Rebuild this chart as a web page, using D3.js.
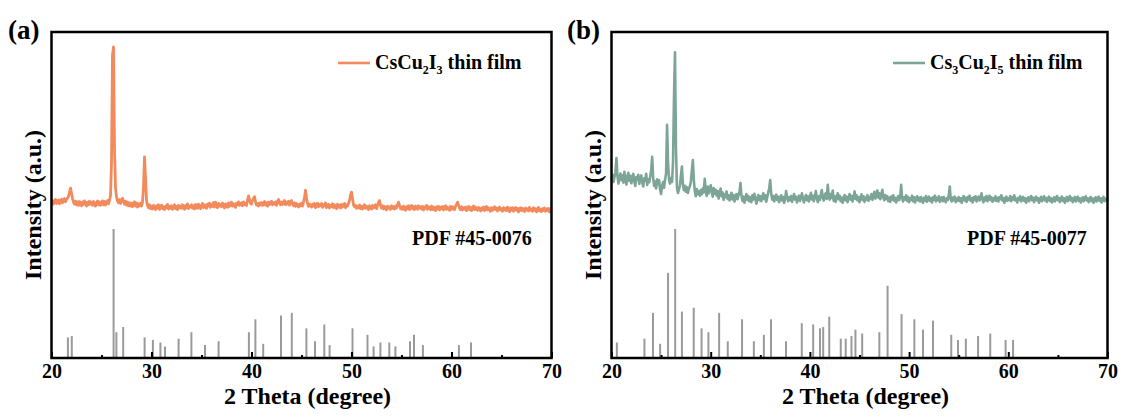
<!DOCTYPE html>
<html>
<head>
<meta charset="utf-8">
<script src="https://cdn.jsdelivr.net/npm/d3@7"></script>
<style>
  html, body { margin: 0; padding: 0; background: #fff; }
  svg { display: block; }
  text { font-family: "Liberation Serif", "Times New Roman", serif; font-weight: bold; fill: #000; }
</style>
</head>
<body>
<svg id="chart" width="1123" height="417"></svg>
<script>
// XRD scans: 2θ from 20° to 70° in 0.1° steps, intensity in counts (a.u.)
const thetaStart = 20;
const thetaStep = 0.1;

// CsCu2I3 thin film
const filmA = [
  476,483,472,481,486,474,480,485,473,482,
  487,476,484,489,479,487,490,496,508,521,
  506,489,478,472,481,470,479,468,480,473,
  467,479,471,482,474,466,478,470,481,472,
  478,468,480,473,466,477,482,470,479,468,
  476,482,470,480,469,477,483,473,484,498,
  600,930,954,640,522,494,482,476,486,474,
  484,490,480,472,481,469,478,467,476,466,
  475,464,474,479,466,476,463,473,467,475,
  466,478,525,617,556,484,468,461,470,458,
  466,457,468,461,455,467,460,470,456,463,
  469,458,464,455,466,461,471,457,465,459,
  467,456,463,470,458,465,455,468,460,466,
  459,470,462,456,468,461,473,458,466,463,
  470,460,467,457,471,463,459,472,464,458,
  468,474,461,470,465,459,472,466,475,462,
  471,465,477,463,478,468,461,474,466,470,
  464,475,468,460,473,467,462,476,465,471,
  478,466,473,469,462,475,470,479,468,472,
  476,467,479,470,474,468,483,497,486,475,
  472,483,490,495,480,469,474,466,475,470,
  477,468,473,480,469,476,466,478,471,474,
  481,470,476,472,479,468,480,486,476,470,
  479,471,476,483,470,478,473,481,469,476,
  483,472,467,476,465,474,470,463,472,467,
  475,466,478,492,515,491,474,465,472,468,
  463,472,466,474,461,470,475,464,471,467,
  474,462,470,467,476,461,469,472,460,468,
  465,473,461,470,466,458,472,463,469,460,
  471,463,468,474,461,470,466,474,483,500,
  509,489,470,464,468,459,466,461,469,458,
  466,457,463,470,459,466,462,455,467,461,
  457,468,460,465,470,458,467,477,483,469,
  460,467,457,465,462,454,466,459,463,456,
  467,459,464,457,466,460,470,478,468,458,
  463,456,466,459,453,464,458,467,455,462,
  468,458,465,455,466,461,456,467,460,464,
  457,465,454,463,459,468,456,464,461,455,
  466,455,463,458,452,464,457,465,454,462,
  458,465,454,462,467,456,463,459,453,465,
  456,464,459,455,466,470,478,470,460,455,
  464,454,461,457,463,452,460,465,455,462,
  452,460,466,455,463,458,453,462,457,451,
  460,455,463,452,459,465,454,461,456,450,
  461,453,458,464,455,460,451,459,463,454,
  458,450,461,455,459,452,463,456,449,460,
  454,461,450,458,462,453,459,448,457,461,
  452,459,455,449,460,454,458,451,462,453,
  456,450,461,453,458,448,457,462,451,456,
  449,458,453,460,450,457,452,459,448,455,
  453
];

// Cs3Cu2I5 thin film
const filmB = [
  548,562,540,555,570,613,558,535,552,566,
  545,560,538,571,550,532,556,568,543,559,
  536,552,565,541,528,555,547,562,534,549,
  560,538,526,551,544,565,531,548,539,556,
  575,617,552,528,541,520,548,533,545,516,
  503,528,540,522,547,565,715,600,548,535,
  552,540,598,800,938,640,522,506,518,530,
  560,587,532,515,528,510,524,506,519,527,
  540,575,607,545,512,496,518,503,511,498,
  515,502,520,508,550,512,497,526,505,518,
  530,510,495,521,504,516,498,512,489,507,
  520,496,508,485,502,493,511,488,499,483,
  496,507,486,500,480,494,503,487,499,510,
  537,498,482,495,476,490,503,485,497,481,
  493,478,499,486,504,490,473,489,500,484,
  496,481,492,505,487,499,479,493,508,520,
  546,503,486,497,480,492,501,485,495,478,
  490,499,483,494,476,488,512,495,481,493,
  484,497,479,491,503,486,495,477,489,498,
  482,494,505,488,477,492,500,484,496,480,
  493,507,486,498,481,495,512,490,478,496,
  485,500,515,492,483,499,506,488,531,497,
  486,503,491,514,482,496,479,493,505,487,
  498,481,492,476,489,500,484,495,478,491,
  503,486,497,480,493,511,488,499,483,494,
  478,490,502,485,496,479,492,486,499,482,
  494,488,503,485,497,510,489,501,514,492,
  505,487,498,516,493,484,500,488,496,481,
  492,479,495,486,499,482,491,477,488,497,
  484,495,531,490,480,493,486,499,482,494,
  478,490,485,498,481,493,477,489,496,483,
  492,480,494,486,476,491,483,497,479,488,
  495,482,490,477,493,485,498,480,491,484,
  496,479,488,493,481,494,486,478,490,485,
  499,526,487,480,492,484,495,478,489,483,
  494,481,490,476,488,497,483,491,479,494,
  486,498,482,490,477,493,485,496,480,489,
  495,483,491,505,486,478,492,484,497,481,
  489,498,485,493,479,490,484,496,482,491,
  480,494,487,499,483,491,476,488,495,482,
  490,484,497,481,493,486,499,483,489,477,
  491,485,496,480,488,494,482,490,476,487,
  493,481,489,497,484,492,478,488,495,483,
  490,476,487,494,481,489,496,483,491,479,
  488,495,482,490,477,486,493,480,489,497,
  484,491,478,488,495,482,490,476,487,494,
  481,489,497,483,491,478,487,494,480,488,
  495,482,490,477,486,493,481,489,496,483,
  490,478,487,494,481,489,476,486,493,480,
  488,495,482,490,477,486,494,481,489,484,
  487
];

// Reference pattern PDF #45-0076: peak positions (2θ) and relative intensities
const pdfATheta = [21.64,22.03,26.21,26.49,27.17,29.31,30.14,30.89,31.35,32.71,33.99,35.35,36.71,
  39.74,40.39,41.17,42.95,44.03,45.49,46.35,47.28,47.81,50.10,51.60,52.21,52.89,53.78,54.39,
  55.85,56.25,57.14,60.74,61.95];
const pdfAInt = [16,17,100,20,24,16,14,12,9,15,20,10,13,
  20,30,11,33,35,23,13,26,10,23,18,9,12,12,9,
  13,18,10,10,12];

// Reference pattern PDF #45-0077
const pdfBTheta = [20.54,23.32,24.18,24.90,25.70,26.42,27.10,28.29,29.08,29.77,30.85,31.72,33.16,
  34.35,35.36,36.08,37.59,39.18,40.33,41.02,41.34,41.95,43.11,43.61,44.19,44.59,45.27,
  47.00,47.83,49.24,50.53,51.40,52.41,54.25,54.93,55.72,56.95,58.18,59.73,60.48];
const pdfBInt = [12,15,35,11,66,100,36,39,23,20,35,13,30,
  13,18,30,13,27,26,23,24,32,15,15,17,22,19,
  20,56,34,30,22,29,18,14,15,17,19,14,14];

const xMajorTicks = [20, 30, 40, 50, 60, 70];
const xMinorTicks = [25, 35, 45, 55, 65];

const panelLetters = ["(a)", "(b)"];
const legendA = [["CsCu", false], ["2", true], ["I", false], ["3", true], [" thin film", false]];
const legendB = [["Cs", false], ["3", true], ["Cu", false], ["2", true], ["I", false], ["5", true], [" thin film", false]];
const pdfLabels = ["PDF #45-0076", "PDF #45-0077"];
const xTitle = "2 Theta (degree)";
const yTitle = "Intensity (a.u.)";

const svg = d3.select("#chart");

const panels = [
  { left: 51.5, right: 551.5, film: filmA, color: "#F28A5C", lineWidth: 2.8, legend: legendA,
    pdfTheta: pdfATheta, pdfInt: pdfAInt, pdfLabel: pdfLabels[0], letter: panelLetters[0],
    letterX: 8, legX: 338, pdfX: 412 },
  { left: 611.5, right: 1107.5, film: filmB, color: "#7DA597", lineWidth: 2.6, legend: legendB,
    pdfTheta: pdfBTheta, pdfInt: pdfBInt, pdfLabel: pdfLabels[1], letter: panelLetters[1],
    letterX: 567, legX: 893, pdfX: 967 }
];

const plotTop = 32, plotBottom = 358;

panels.forEach(p => {
  const g = svg.append("g");
  const x = d3.scaleLinear().domain([20, 70]).range([p.left, p.right]);
  const yFilm = d3.scaleLinear().domain([0, 1000]).range([plotBottom, plotTop]);
  const yPdf = d3.scaleLinear().domain([0, 100]).range([plotBottom, 229]);

  // reference sticks
  g.append("g").selectAll("line")
    .data(p.pdfTheta.map((t, i) => [t, p.pdfInt[i]]))
    .join("line")
    .attr("x1", d => x(d[0])).attr("x2", d => x(d[0]))
    .attr("y1", yPdf(0)).attr("y2", d => yPdf(d[1]))
    .attr("stroke", "#9A9A9A").attr("stroke-width", 2);

  // film pattern
  const line = d3.line()
    .x((d, i) => x(thetaStart + i * thetaStep))
    .y(d => yFilm(d));
  g.append("path")
    .datum(p.film)
    .attr("d", line)
    .attr("fill", "none")
    .attr("stroke", p.color)
    .attr("stroke-width", p.lineWidth)
    .attr("stroke-linejoin", "round");

  // bottom axis, ticks pointing inward
  const axis = d3.axisBottom(x).tickValues(xMajorTicks).tickFormat(d3.format("d"))
    .tickSizeInner(-6).tickSizeOuter(0).tickPadding(6);
  const ax = g.append("g").attr("transform", `translate(0,${plotBottom})`).call(axis);
  ax.select(".domain").remove();
  ax.selectAll(".tick line").attr("stroke", "#000").attr("stroke-width", 2);
  ax.selectAll(".tick text").attr("font-size", 20).attr("fill", "#000")
    .style("font-family", "'Liberation Serif', serif").style("font-weight", "bold");

  const minor = d3.axisBottom(x).tickValues(xMinorTicks).tickFormat("")
    .tickSizeInner(-3).tickSizeOuter(0);
  const mx = g.append("g").attr("transform", `translate(0,${plotBottom})`).call(minor);
  mx.select(".domain").remove();
  mx.selectAll(".tick line").attr("stroke", "#000").attr("stroke-width", 2);

  // frame
  g.append("rect")
    .attr("x", p.left).attr("y", plotTop)
    .attr("width", p.right - p.left).attr("height", plotBottom - plotTop)
    .attr("fill", "none").attr("stroke", "#000").attr("stroke-width", 2.5);

  // axis titles
  g.append("text")
    .attr("x", (p.left + p.right) / 2 + 6).attr("y", 404)
    .attr("text-anchor", "middle").attr("font-size", 24)
    .text(xTitle);
  g.append("text")
    .attr("transform", `translate(${p.left - 11},${205}) rotate(-90)`)
    .attr("text-anchor", "middle").attr("font-size", 24)
    .text(yTitle);

  // panel letter
  g.append("text")
    .attr("x", p.letterX).attr("y", 39)
    .attr("font-size", 27)
    .text(p.letter);

  // legend
  g.append("line")
    .attr("x1", p.legX).attr("x2", p.legX + 32)
    .attr("y1", 63).attr("y2", 63)
    .attr("stroke", p.color).attr("stroke-width", 2.6);
  const lt = g.append("text")
    .attr("x", p.legX + 37).attr("y", 69)
    .attr("font-size", 20);
  let shifted = false;
  p.legend.forEach(([s, sub]) => {
    const ts = lt.append("tspan").text(s);
    if (sub) {
      ts.attr("font-size", 12).attr("dy", shifted ? 0 : 5);
      shifted = true;
    } else {
      if (shifted) ts.attr("dy", -5);
      shifted = false;
    }
  });

  // reference label
  g.append("text")
    .attr("x", p.pdfX).attr("y", 245)
    .attr("font-size", 20)
    .text(p.pdfLabel);
});
</script>
</body>
</html>
